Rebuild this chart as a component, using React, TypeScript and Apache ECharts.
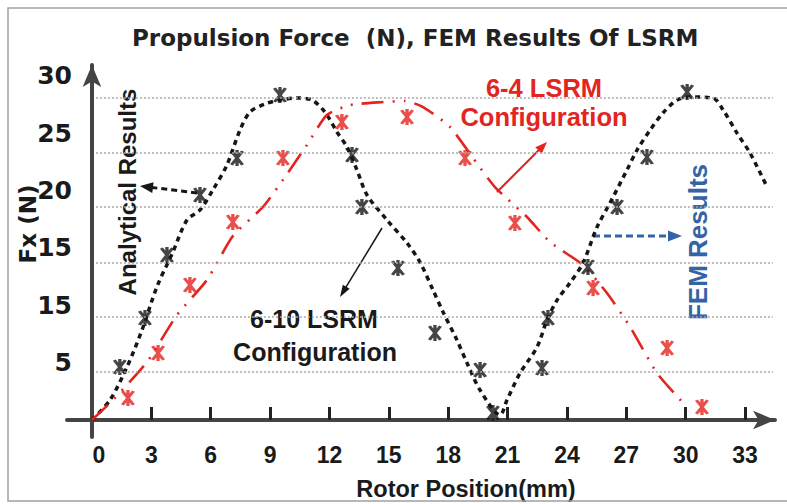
import React, { useEffect, useRef } from 'react';
import * as echarts from 'echarts';

// ---------- axis ticks ----------
const xTickValues = [0, 3, 6, 9, 12, 15, 18, 21, 24, 27, 30, 33];
const yTickValues = [5, 10, 15, 20, 25, 30];
const yTickLabels = ['5', '15', '15', '20', '25', '30'];
const gridLevels = [4.18, 8.97, 13.68, 18.56, 23.26, 28.05];

// ---------- 6-10 LSRM : analytical (dashed black) ----------
const analytical610X = [0, 0.91, 1.77, 2.53, 3.28, 4.09, 4.8, 5.46, 6.11, 6.82, 7.48, 7.98, 8.74, 9.5, 10.36, 11.12, 11.77, 12.38, 12.89, 13.39, 13.9, 14.91, 15.92, 16.57, 17.23, 17.74, 18.44, 18.95, 19.61, 20.62, 20.97, 21.63, 22.49, 22.99, 23.5, 24.15, 24.81, 25.52, 26.17, 27.03, 27.54, 28.2, 28.85, 29.56, 30.22, 31.38, 31.89, 32.59, 33.25, 34.11];
const analytical610Y = [0, 1.74, 4.62, 7.84, 11.59, 14.64, 17.42, 18.3, 20.04, 22.22, 25.26, 26.83, 27.53, 27.88, 28.05, 27.88, 26.83, 25.09, 23.78, 21.78, 19.6, 17.42, 15.42, 13.76, 11.33, 9.41, 6.97, 4.97, 2.61, 0.44, 1.74, 4.09, 6.36, 8.71, 10.45, 11.94, 13.68, 16.81, 18.9, 21.78, 23.52, 25.26, 26.75, 27.88, 28.14, 28.05, 27.01, 25.0, 23.26, 20.3];

// ---------- 6-10 LSRM : FEM (black stars) ----------
const fem610X = [1.41, 2.68, 3.79, 5.46, 7.33, 9.5, 13.14, 13.64, 15.46, 17.33, 19.61, 20.26, 22.74, 23.04, 25.06, 26.53, 28.04, 30.07];
const fem610Y = [4.62, 8.89, 14.37, 19.6, 22.83, 28.31, 23.09, 18.56, 13.24, 7.58, 4.36, 0.61, 4.53, 8.89, 13.33, 18.56, 22.91, 28.58];

// ---------- 6-4 LSRM : analytical (red dash-dot-dot) ----------
const analytical64X = [0, 1.06, 2.78, 4.3, 5.81, 7.12, 8.64, 9.75, 10.86, 11.87, 13.04, 14.7, 15.82, 16.73, 18.09, 19.25, 20.36, 21.98, 23.14, 24.81, 26.02, 27.19, 28.55, 29.96];
const analytical64Y = [0, 1.74, 5.05, 9.15, 12.2, 16.03, 18.56, 21.17, 23.96, 26.57, 27.44, 27.7, 27.79, 27.27, 25.53, 22.83, 20.3, 17.69, 15.51, 13.5, 11.06, 8.1, 4.09, 1.31];

// ---------- 6-4 LSRM : FEM (red stars) ----------
const fem64X = [1.82, 3.34, 4.95, 7.12, 9.65, 12.63, 15.92, 18.85, 21.37, 25.32, 29.06, 30.82];
const fem64Y = [1.92, 5.84, 11.76, 17.25, 22.83, 25.96, 26.4, 22.83, 17.16, 11.5, 6.27, 1.13];

const pairs = (xs: number[], ys: number[]) => xs.map((x, i) => [x, ys[i]]);

const STAR =
  'path://M8.5,0L11.5,0L11.5,20L8.5,20ZM3.701,2.09L6.299,0.59L16.299,17.91L13.701,19.41ZM6.299,19.41L3.701,17.91L13.701,0.59L16.299,2.09Z';

const ARIAL = "'Liberation Sans', Arial, sans-serif";
const DEJAVU = "'DejaVu Sans', sans-serif";
const RED = '#e3241f';
const BLACK = '#161616';
const BLUE = '#3464a6';

function arrow(x1: number, y1: number, x2: number, y2: number, color: string, width: number, dash: any, headLen: number, headW: number) {
  const dx = x2 - x1;
  const dy = y2 - y1;
  const len = Math.sqrt(dx * dx + dy * dy);
  const ux = dx / len;
  const uy = dy / len;
  const bx = x2 - ux * headLen;
  const by = y2 - uy * headLen;
  const px = -uy * headW / 2;
  const py = ux * headW / 2;
  return {
    type: 'group',
    silent: true,
    children: [
      {
        type: 'line',
        shape: { x1, y1, x2: bx + ux * 2, y2: by + uy * 2 },
        style: { stroke: color, lineWidth: width, lineDash: dash },
      },
      {
        type: 'polygon',
        shape: { points: [[x2, y2], [bx + px, by + py], [bx - px, by - py]] },
        style: { fill: color },
      },
    ],
  };
}

function txt(text: string, x: number, y: number, size: number, color: string, family: string, rotation = 0) {
  return {
    type: 'text',
    x,
    y,
    rotation,
    silent: true,
    style: {
      text,
      fill: color,
      font: `bold ${size}px ${family}`,
      align: 'center',
      verticalAlign: 'middle',
    },
  };
}

export default function App() {
  const ref = useRef<HTMLDivElement>(null);

  useEffect(() => {
    if (!ref.current) return;
    const chart = echarts.init(ref.current, undefined, { renderer: 'svg' });

    const option: any = {
      animation: false,
      backgroundColor: '#ffffff',
      title: {
        text: 'Propulsion Force  (N), FEM Results Of LSRM',
        left: 132,
        top: 26,
        padding: 0,
        textStyle: { fontFamily: DEJAVU, fontWeight: 'bold', fontSize: 23, color: '#222' },
      },
      grid: { left: 67, right: 12, top: 65, bottom: 67, containLabel: false },
      xAxis: {
        type: 'value',
        min: -1.26,
        max: 34.51,
        axisLine: {
          show: true,
          onZero: true,
          symbol: ['none', 'arrow'],
          symbolSize: [14, 22],
          lineStyle: { color: '#444', width: 4 },
        },
        axisTick: {
          show: true,
          inside: true,
          length: 13,
          customValues: xTickValues.filter((v) => v !== 0),
          lineStyle: { color: '#222', width: 3 },
        },
        axisLabel: {
          show: true,
          customValues: xTickValues,
          margin: 6,
          fontFamily: ARIAL,
          fontWeight: 'bold',
          fontSize: 23,
          color: '#1a1a1a',
          formatter: (v: number) => (v === 0 ? '{z|0}' : String(v)),
          rich: {
            z: {
              fontFamily: ARIAL,
              fontWeight: 'bold',
              fontSize: 23,
              color: '#1a1a1a',
              padding: [0, 0, 0, 14],
            },
          },
        },
        splitLine: { show: false },
      },
      yAxis: {
        type: 'value',
        min: -1.48,
        max: 30.93,
        axisLine: {
          show: true,
          onZero: true,
          symbol: ['none', 'arrow'],
          symbolSize: [14, 22],
          lineStyle: { color: '#444', width: 4 },
        },
        axisTick: { show: false },
        axisLabel: {
          show: true,
          customValues: yTickValues,
          margin: -5,
          fontFamily: DEJAVU,
          fontWeight: 'bold',
          fontSize: 25,
          color: '#1a1a1a',
          formatter: (v: number) => {
            const i = yTickValues.indexOf(v);
            return i >= 0 ? yTickLabels[i] : '';
          },
        },
        splitLine: { show: false },
      },
      series: [
        {
          name: 'grid',
          type: 'line',
          data: [],
          silent: true,
          markLine: {
            silent: true,
            symbol: ['none', 'none'],
            label: { show: false },
            lineStyle: { color: '#a8a8a8', width: 1.5, type: [2, 2] },
            data: gridLevels.map((v) => [{ coord: [0.2, v] }, { coord: [34.4, v] }]),
          },
        },
        {
          name: '6-10 LSRM Analytical',
          type: 'line',
          data: pairs(analytical610X, analytical610Y),
          showSymbol: false,
          smooth: 0.3,
          lineStyle: { color: BLACK, width: 3.5, type: [5, 4.5] },
          z: 3,
        },
        {
          name: '6-4 LSRM Analytical',
          type: 'line',
          data: pairs(analytical64X, analytical64Y),
          showSymbol: false,
          smooth: 0.2,
          lineStyle: { color: RED, width: 2.6, type: [22, 9, 2, 9, 2, 9] },
          z: 3,
        },
        {
          name: '6-10 LSRM FEM',
          type: 'scatter',
          data: pairs(fem610X, fem610Y),
          symbol: STAR,
          symbolSize: [14, 16],
          itemStyle: { color: BLACK },
          z: 4,
        },
        {
          name: '6-4 LSRM FEM',
          type: 'scatter',
          data: pairs(fem64X, fem64Y),
          symbol: STAR,
          symbolSize: [14, 16],
          itemStyle: { color: RED },
          z: 4,
        },
      ],
      graphic: [
        {
          type: 'rect',
          shape: { x: 8, y: 8, width: 800, height: 493 },
          style: { fill: 'none', stroke: '#a0a0a0', lineWidth: 1.5 },
          silent: true,
          z: 100,
        },
        txt('Fx (N)', 28, 224, 23, '#1a1a1a', DEJAVU, Math.PI / 2),
        txt('Rotor Position(mm)', 466, 489, 23.5, '#1a1a1a', ARIAL),
        txt('Analytical Results', 127, 192, 24, '#1a1a1a', ARIAL, Math.PI / 2),
        txt('FEM Results', 698, 242, 26, BLUE, ARIAL, Math.PI / 2),
        txt('6-4 LSRM', 544, 88, 25.5, RED, ARIAL),
        txt('Configuration', 544, 117, 25.5, RED, ARIAL),
        txt('6-10 LSRM', 314, 319, 25, '#1a1a1a', ARIAL),
        txt('Configuration', 315, 352, 25, '#1a1a1a', ARIAL),
        arrow(197, 193, 140, 186, BLACK, 3, [6, 4], 13, 11),
        arrow(497, 192, 547, 142, RED, 2, null, 12, 9),
        arrow(382, 228, 340, 297, BLACK, 1.5, null, 12, 8),
        arrow(593, 236, 682, 236, BLUE, 3, [7, 4], 14, 11),
      ],
    };

    chart.setOption(option);
    return () => chart.dispose();
  }, []);

  return (
    <div
      ref={ref}
      style={{ position: 'absolute', left: 0, top: 0, width: 787, height: 504 }}
    />
  );
}
